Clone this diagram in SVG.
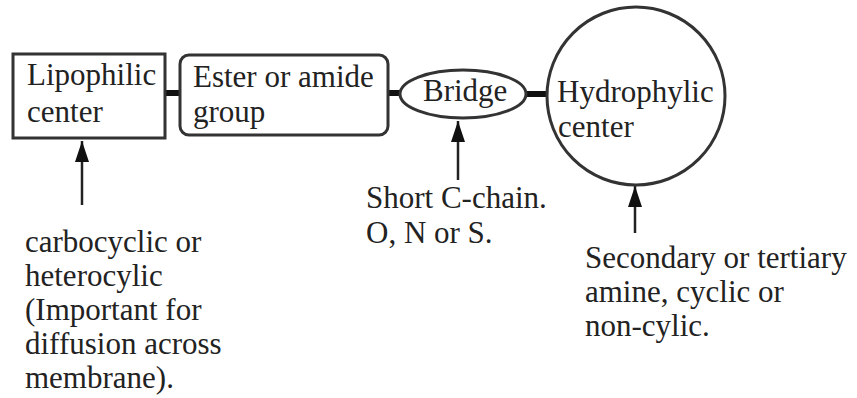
<svg xmlns="http://www.w3.org/2000/svg" width="857" height="398" viewBox="0 0 857 398">
<defs>
<style>
text{font-family:"Liberation Serif","Times New Roman",serif;font-size:31px;fill:#222}
.shape{fill:#fff;stroke:#333;stroke-width:3}
.bond{stroke:#111;stroke-width:6}
.arr{stroke:#222;stroke-width:2.5;fill:none}
</style>
<marker id="ah" viewBox="0 0 21 14" refX="21" refY="7" markerWidth="21" markerHeight="14" markerUnits="userSpaceOnUse" orient="auto">
<path d="M0,0 L21,7 L0,14 Z" fill="#111"/>
</marker>
</defs>
<rect width="857" height="398" fill="#fff"/>
<g id="connectors">
<line class="bond" x1="165" y1="93" x2="180" y2="93"/>
<line class="bond" x1="388" y1="93" x2="401" y2="93"/>
<line class="bond" x1="526" y1="94" x2="547" y2="94"/>
<line class="arr" x1="82" y1="205" x2="82" y2="141" marker-end="url(#ah)"/>
<line class="arr" x1="458" y1="180" x2="458" y2="121" marker-end="url(#ah)"/>
<line class="arr" x1="635" y1="233" x2="635" y2="186" marker-end="url(#ah)"/>
</g>
<g id="lipophilic">
<rect class="shape" x="13" y="54" width="152" height="84"/>
<text x="27" y="85">Lipophilic</text>
<text x="27" y="122">center</text>
</g>
<g id="ester">
<rect class="shape" x="180" y="55" width="208" height="80" rx="9"/>
<text x="193" y="87">Ester or amide</text>
<text x="193" y="122">group</text>
</g>
<g id="bridge">
<ellipse class="shape" cx="463" cy="94" rx="63" ry="24"/>
<text x="423" y="101">Bridge</text>
</g>
<g id="hydrophylic">
<circle class="shape" cx="636" cy="96" r="89"/>
<text x="557" y="102">Hydrophylic</text>
<text x="558" y="137">center</text>
</g>
<g id="lipophilic-note">
<text x="25" y="252">carbocyclic or</text>
<text x="25" y="286">heterocylic</text>
<text x="25" y="320">(Important for</text>
<text x="25" y="354">diffusion across</text>
<text x="25" y="388">membrane).</text>
</g>
<g id="bridge-note">
<text x="366" y="208">Short C-chain.</text>
<text x="366" y="243">O, N or S.</text>
</g>
<g id="hydrophylic-note">
<text x="585" y="268">Secondary or tertiary</text>
<text x="585" y="302">amine, cyclic or</text>
<text x="585" y="336">non-cylic.</text>
</g>
</svg>
